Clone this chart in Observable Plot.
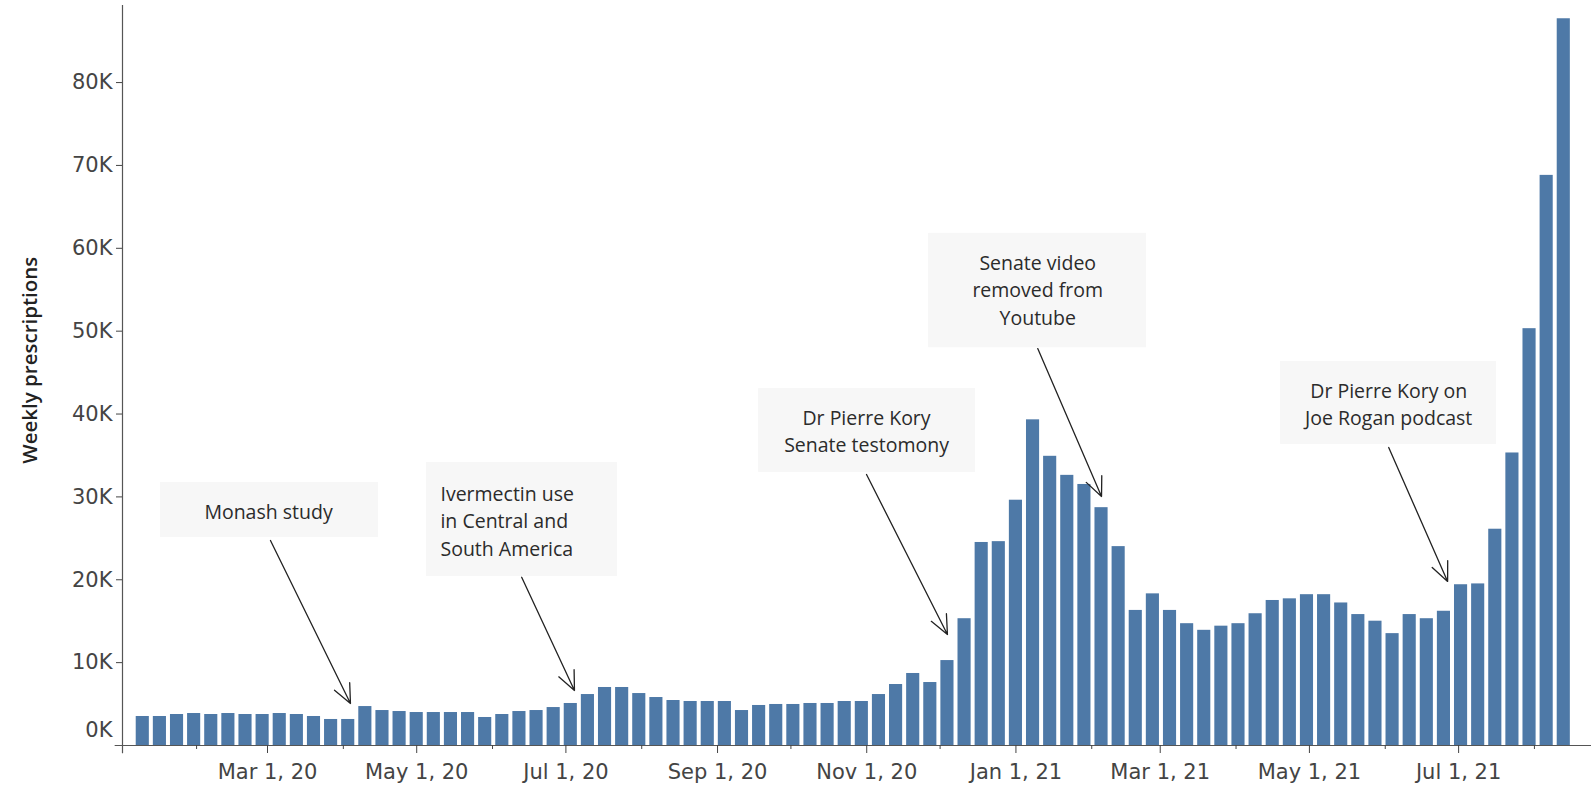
<!DOCTYPE html>
<html>
<head>
<meta charset="utf-8">
<script src="https://cdn.jsdelivr.net/npm/d3@7"></script>
<script src="https://cdn.jsdelivr.net/npm/@observablehq/plot@0.6"></script>
<style>
  html, body { margin: 0; padding: 0; background: #fff; }
  #chart svg { display: block; }
</style>
</head>
<body>
<div id="chart"></div>
<script>
// Weekly dates (Fridays), first week Jan 10, 2020 through Aug 13, 2021
const firstWeek = "2020-01-10";
const lastWeek = "2021-08-13";
const weekDates = d3.utcFriday.range(new Date(firstWeek + "T00:00Z"), d3.utcDay.offset(new Date(lastWeek + "T00:00Z"), 1));

// Weekly prescriptions
const weeklyPrescriptions = [
  3500, 3500, 3740, 3860, 3740, 3860, 3740, 3740, 3860, 3740,
  3500, 3140, 3140, 4700, 4220, 4100, 3980, 3980, 3980, 3980,
  3380, 3740, 4100, 4220, 4580, 5070, 6150, 7000, 7000, 6270,
  5790, 5430, 5310, 5310, 5310, 4220, 4830, 4950, 4950, 5070,
  5070, 5310, 5310, 6150, 7360, 8690, 7600, 10250, 15300, 24500,
  24600, 29600, 39300, 34900, 32600, 31500, 28700, 24000, 16300, 18300,
  16300, 14700, 13900, 14400, 14700, 15900, 17500, 17700, 18200, 18200,
  17200, 15800, 15000, 13500, 15800, 15300, 16200, 19400, 19500, 26100,
  35300, 50300, 68800, 87700
];

const yTicks = [10000, 20000, 30000, 40000, 50000, 60000, 70000, 80000];
const xMajorTicks = ["2020-03-01", "2020-05-01", "2020-07-01", "2020-09-01", "2020-11-01",
                     "2021-01-01", "2021-03-01", "2021-05-01", "2021-07-01"];
const xMinorTicks = ["2020-02-01", "2020-04-01", "2020-06-01", "2020-08-01", "2020-10-01",
                     "2020-12-01", "2021-02-01", "2021-04-01", "2021-06-01", "2021-08-01"];

const annotations = [
  {label: "Monash study", anchor: "middle",
   bx1: "2020-01-17T06:00Z", bx2: "2020-04-15T10:00Z", by1: 25100, by2: 31740,
   tx: "2020-03-01T10:00Z", ty: 28360,
   ax1: "2020-03-02T05:00Z", ay1: 24740, ax2: "2020-04-03T22:00Z", ay2: 5070},
  {label: "Ivermectin use\nin Central and\nSouth America", anchor: "start",
   bx1: "2020-05-05T00:00Z", bx2: "2020-07-22T02:00Z", by1: 20400, by2: 34150,
   tx: "2020-05-10T17:00Z", ty: 27270,
   ax1: "2020-06-12T22:00Z", ay1: 20300, ax2: "2020-07-04T12:00Z", ay2: 6640},
  {label: "Dr Pierre Kory\nSenate testomony", anchor: "middle",
   bx1: "2020-09-17T19:00Z", bx2: "2020-12-15T12:00Z", by1: 32950, by2: 43080,
   tx: "2020-10-31T22:00Z", ty: 38140,
   ax1: "2020-10-31T22:00Z", ay1: 32700, ax2: "2020-12-04T00:00Z", ay2: 13400},
  {label: "Senate video\nremoved from\nYoutube", anchor: "middle",
   bx1: "2020-11-26T07:00Z", bx2: "2021-02-23T10:00Z", by1: 48000, by2: 61800,
   tx: "2021-01-09T22:00Z", ty: 55150,
   ax1: "2021-01-09T22:00Z", ay1: 47900, ax2: "2021-02-05T00:00Z", ay2: 30050},
  {label: "Dr Pierre Kory on\nJoe Rogan podcast", anchor: "middle",
   bx1: "2021-04-19T05:00Z", bx2: "2021-07-16T12:00Z", by1: 36330, by2: 46340,
   tx: "2021-06-02T10:00Z", ty: 41400,
   ax1: "2021-06-02T10:00Z", ay1: 35960, ax2: "2021-06-26T12:00Z", ay2: 19800}
];

const data = weekDates.map((date, i) => ({date, value: weeklyPrescriptions[i]}));
const xDomain = [new Date("2020-01-01T17:00Z"), new Date("2021-08-24T08:00Z")];
const D = s => new Date(s);
const annoFont = {fontFamily: "Open Sans", fontSize: 19.5, fill: "#2b2b2b", lineHeight: 1.4};

const chart = Plot.plot({
  width: 1591,
  height: 794,
  marginLeft: 122,
  marginRight: 0,
  marginTop: 5,
  marginBottom: 49,
  style: {fontFamily: "DejaVu Sans", fontSize: "21px", color: "#444", background: "#fff"},
  x: {type: "utc", domain: xDomain},
  y: {domain: [0, 89300]},
  marks: [
    Plot.rectY(data, {
      x1: d => d3.utcHour.offset(d.date, -84),
      x2: d => d3.utcHour.offset(d.date, 84),
      y: "value",
      fill: "#4e79a7",
      insetLeft: 2, insetRight: 2
    }),
    // axis lines
    Plot.ruleX([xDomain[0]], {y1: -1000, y2: 89300, stroke: "#555", strokeWidth: 1.2}),
    Plot.ruleY([0], {x1: d3.utcDay.offset(xDomain[0], -3), x2: xDomain[1], stroke: "#555", strokeWidth: 1.2}),
    Plot.axisY({ticks: yTicks, tickFormat: d => d / 1000 + "K", tickSize: 6, tickPadding: 4, label: null, fontSize: 21}),
    Plot.axisY({ticks: [0], tickSize: 0, tickPadding: 10, dy: -15, tickFormat: () => "0K", label: null, fontSize: 21}),
    Plot.axisX({ticks: xMajorTicks.map(D), tickSize: 8, tickPadding: 11, tickFormat: d3.utcFormat("%b %-d, %y"), label: null, fontSize: 21}),
    Plot.axisX({ticks: xMinorTicks.map(D), tickSize: 4, tickFormat: () => "", label: null}),
    // y label
    Plot.text(["Weekly prescriptions"], {
      x: () => xDomain[0], y: () => 46500, text: d => d, rotate: -90, dx: -92,
      fontFamily: "Open Sans", fontWeight: 600, fontSize: 20.5, fill: "#222"
    }),
    // annotations
    Plot.rect(annotations, {x1: d => D(d.bx1), x2: d => D(d.bx2), y1: "by1", y2: "by2", fill: "#f7f7f7"}),
    Plot.text(annotations.filter(d => d.anchor === "middle"), {
      x: d => D(d.tx), y: "ty", text: "label", textAnchor: "middle", ...annoFont
    }),
    Plot.text(annotations.filter(d => d.anchor === "start"), {
      x: d => D(d.tx), y: "ty", text: "label", textAnchor: "start", ...annoFont
    }),
    Plot.arrow(annotations, {
      x1: d => D(d.ax1), y1: "ay1", x2: d => D(d.ax2), y2: "ay2",
      stroke: "#222", strokeWidth: 1.3, headLength: 24, headAngle: 48
    })
  ]
});
document.getElementById("chart").append(chart);
</script>
</body>
</html>
